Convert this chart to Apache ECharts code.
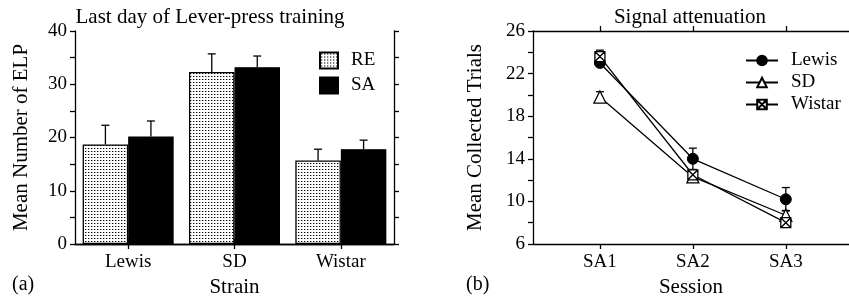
<!DOCTYPE html>
<html>
<head>
<meta charset="utf-8">
<script src="https://cdn.jsdelivr.net/npm/echarts@6/dist/echarts.min.js"></script>
<style>
  html, body { margin: 0; padding: 0; background: #fff; }
  #chart { width: 849px; height: 299px; }
</style>
</head>
<body>
<div id="chart"></div>
<script>
// panel (a): last day of lever-press training
const strains = ["Lewis", "SD", "Wistar"];
const reMean = [18.7, 32.3, 15.7];
const reErr = [3.6, 3.4, 2.1];
const saMean = [20.2, 33.2, 17.8];
const saErr = [2.9, 2.1, 1.7];

// panel (b): signal attenuation
const sessions = ["SA1", "SA2", "SA3"];
const sessionPos = [1, 2, 3];
const lewisMean = [23.0, 14.0, 10.2];
const lewisErr = [0.3, 1.0, 1.1];
const sdMean = [19.8, 12.3, 8.7];
const sdErr = [0.5, 0.3, 0.45];
const wistarMean = [23.6, 12.5, 8.0];
const wistarErr = [0.6, 0.4, 0.3];

const FONT = "Liberation Serif";
const GAP = 0.144;

// dotted fill for RE bars
let dots = document.createElement("canvas");
dots.width = 3;
dots.height = 3;
let dctx = dots.getContext("2d");
dctx.fillStyle = "#fff";
dctx.fillRect(0, 0, 3, 3);
dctx.fillStyle = "#000";
dctx.fillRect(1, 1, 1, 1);
dctx.fillStyle = "#aaa";
dctx.fillRect(2, 1, 1, 1);

let chart = echarts.init(document.getElementById("chart"));

function barErrors(side) {
  return function (params, api) {
    let idx = api.value(0);
    let mean = api.value(1);
    let err = api.value(2);
    let band = api.size([1, 0])[0];
    let base = api.coord([idx, mean]);
    let top = api.coord([idx, mean + err]);
    let x = base[0] + side * band * (1 - GAP) / 4;
    return {
      type: "group",
      children: [
        { type: "line", shape: { x1: x, y1: base[1], x2: x, y2: top[1] }, style: { stroke: "#000", lineWidth: 1.3 } },
        { type: "line", shape: { x1: x - 4, y1: top[1], x2: x + 4, y2: top[1] }, style: { stroke: "#000", lineWidth: 1.3 } },
      ],
    };
  };
}

function lineErrors(params, api) {
  let x = api.value(0);
  let mean = api.value(1);
  let err = api.value(2);
  let hi = api.coord([x, mean + err]);
  let lo = api.coord([x, mean - err]);
  return {
    type: "group",
    children: [
      { type: "line", shape: { x1: hi[0], y1: hi[1], x2: lo[0], y2: lo[1] }, style: { stroke: "#000", lineWidth: 1.3 } },
      { type: "line", shape: { x1: hi[0] - 4, y1: hi[1], x2: hi[0] + 4, y2: hi[1] }, style: { stroke: "#000", lineWidth: 1.3 } },
      { type: "line", shape: { x1: lo[0] - 4, y1: lo[1], x2: lo[0] + 4, y2: lo[1] }, style: { stroke: "#000", lineWidth: 1.3 } },
    ],
  };
}

function pts(mean, err) {
  return sessionPos.map((p, i) => [p, mean[i], err[i]]);
}

let axisLine = { show: true, lineStyle: { color: "#000", width: 1.3 } };
let axisTick = { show: true, length: 5, lineStyle: { color: "#000", width: 1.3 } };
let labelStyle = { color: "#000", fontFamily: FONT, fontSize: 19 };
let nameStyle = { color: "#000", fontFamily: FONT, fontSize: 21 };
let legendText = { color: "#000", fontFamily: FONT, fontSize: 19, padding: [0, 0, 0, 8] };

let wistarSymbol = "path://M0,0 L10,0 L10,10 L0,10 Z M0,0 L10,10 M10,0 L0,10";

let option = {
  animation: false,
  title: [
    { text: "Last day of Lever-press training", left: 205, top: 2, textAlign: "center",
      textStyle: { color: "#000", fontFamily: FONT, fontSize: 21, fontWeight: "normal" } },
    { text: "Signal attenuation", left: 685, top: 2, textAlign: "center",
      textStyle: { color: "#000", fontFamily: FONT, fontSize: 21, fontWeight: "normal" } },
  ],
  legend: [
    {
      data: [{ name: "RE", icon: "rect" }, { name: "SA", icon: "rect" }],
      orient: "vertical",
      left: 314,
      top: 46,
      itemWidth: 18,
      itemHeight: 16,
      itemGap: 6,
      textStyle: legendText,
    },
    {
      data: ["Lewis", "SD", "Wistar"],
      orient: "vertical",
      left: 740,
      top: 46,
      itemWidth: 32,
      itemHeight: 12,
      itemGap: 3,
      textStyle: legendText,
    },
  ],
  grid: [
    { left: 75, top: 31, width: 319, height: 213, outerBoundsMode: "none" },
    { left: 533, top: 31, width: 316, height: 213, outerBoundsMode: "none" },
  ],
  xAxis: [
    {
      type: "category", gridIndex: 0, position: "bottom", data: strains,
      axisLine: axisLine, axisTick: Object.assign({ alignWithLabel: true }, axisTick),
      axisLabel: Object.assign({ margin: 9 }, labelStyle),
      name: "Strain", nameLocation: "middle", nameGap: 31, nameTextStyle: nameStyle,
    },
    {
      type: "category", gridIndex: 0, position: "top", data: strains,
      axisLine: axisLine, axisTick: Object.assign({ alignWithLabel: true }, axisTick),
      axisLabel: { show: false },
    },
    {
      type: "value", gridIndex: 1, position: "bottom", min: 0.28, max: 3.68,
      splitLine: { show: false }, axisLine: axisLine,
      axisTick: Object.assign({ customValues: sessionPos }, axisTick),
      axisLabel: Object.assign({ margin: 9, customValues: sessionPos,
        formatter: (v) => sessions[Math.round(v) - 1] }, labelStyle),
      name: "Session", nameLocation: "middle", nameGap: 31, nameTextStyle: nameStyle,
    },
    {
      type: "value", gridIndex: 1, position: "top", min: 0.28, max: 3.68,
      splitLine: { show: false }, axisLine: axisLine,
      axisTick: Object.assign({ customValues: sessionPos }, axisTick),
      axisLabel: { show: false },
    },
  ],
  yAxis: [
    {
      type: "value", gridIndex: 0, position: "left", min: 0, max: 40, interval: 10,
      splitLine: { show: false }, axisLine: axisLine, axisTick: axisTick,
      minorTick: { show: true, splitNumber: 2, length: 5, lineStyle: { color: "#000", width: 1.3 } },
      axisLabel: Object.assign({ margin: 8 }, labelStyle),
      name: "Mean Number of ELP", nameLocation: "middle", nameGap: 43, nameTextStyle: nameStyle,
    },
    {
      type: "value", gridIndex: 0, position: "right", min: 0, max: 40, interval: 10,
      splitLine: { show: false }, axisLine: axisLine, axisTick: axisTick,
      minorTick: { show: true, splitNumber: 2, length: 5, lineStyle: { color: "#000", width: 1.3 } },
      axisLabel: { show: false },
    },
    {
      type: "value", gridIndex: 1, position: "left", min: 6, max: 26, interval: 4,
      splitLine: { show: false }, axisLine: axisLine, axisTick: axisTick,
      minorTick: { show: true, splitNumber: 2, length: 5, lineStyle: { color: "#000", width: 1.3 } },
      axisLabel: Object.assign({ margin: 8 }, labelStyle),
      name: "Mean Collected Trials", nameLocation: "middle", nameGap: 47, nameTextStyle: nameStyle,
    },
  ],
  graphic: [
    { type: "text", left: 12, top: 275, style: { text: "(a)", fill: "#000", font: "20px 'Liberation Serif'" } },
    { type: "text", left: 466, top: 275, style: { text: "(b)", fill: "#000", font: "20px 'Liberation Serif'" } },
  ],
  series: [
    {
      name: "RE", type: "bar", xAxisIndex: 0, yAxisIndex: 0, data: reMean,
      barGap: "0%", barCategoryGap: GAP * 100 + "%",
      itemStyle: { color: { image: dots, repeat: "repeat" }, borderColor: "#000", borderWidth: 1.3 },
    },
    {
      name: "SA", type: "bar", xAxisIndex: 0, yAxisIndex: 0, data: saMean,
      barGap: "0%", barCategoryGap: GAP * 100 + "%",
      itemStyle: { color: "#000", borderColor: "#000", borderWidth: 1.3 },
    },
    {
      type: "custom", xAxisIndex: 0, yAxisIndex: 0, renderItem: barErrors(-1),
      data: strains.map((s, i) => [i, reMean[i], reErr[i]]),
    },
    {
      type: "custom", xAxisIndex: 0, yAxisIndex: 0, renderItem: barErrors(1),
      data: strains.map((s, i) => [i, saMean[i], saErr[i]]),
    },
    { type: "custom", xAxisIndex: 2, yAxisIndex: 2, z: 1, renderItem: lineErrors, data: pts(lewisMean, lewisErr) },
    { type: "custom", xAxisIndex: 2, yAxisIndex: 2, z: 1, renderItem: lineErrors, data: pts(sdMean, sdErr) },
    { type: "custom", xAxisIndex: 2, yAxisIndex: 2, z: 1, renderItem: lineErrors, data: pts(wistarMean, wistarErr) },
    {
      name: "Lewis", type: "line", xAxisIndex: 2, yAxisIndex: 2, z: 3,
      data: pts(lewisMean, lewisErr).map((d) => [d[0], d[1]]),
      symbol: "circle", symbolSize: 11,
      lineStyle: { color: "#000", width: 1.3 },
      itemStyle: { color: "#000", borderColor: "#000", borderWidth: 1 },
    },
    {
      name: "SD", type: "line", xAxisIndex: 2, yAxisIndex: 2, z: 3,
      data: pts(sdMean, sdErr).map((d) => [d[0], d[1]]),
      symbol: "triangle", symbolSize: 12,
      lineStyle: { color: "#000", width: 1.3 },
      itemStyle: { color: "#fff", borderColor: "#000", borderWidth: 1.3 },
    },
    {
      name: "Wistar", type: "line", xAxisIndex: 2, yAxisIndex: 2, z: 3,
      data: pts(wistarMean, wistarErr).map((d) => [d[0], d[1]]),
      symbol: wistarSymbol, symbolSize: 10,
      lineStyle: { color: "#000", width: 1.3 },
      itemStyle: { color: "#fff", borderColor: "#000", borderWidth: 1.3 },
    },
  ],
};
chart.setOption(option);
</script>
</body>
</html>
